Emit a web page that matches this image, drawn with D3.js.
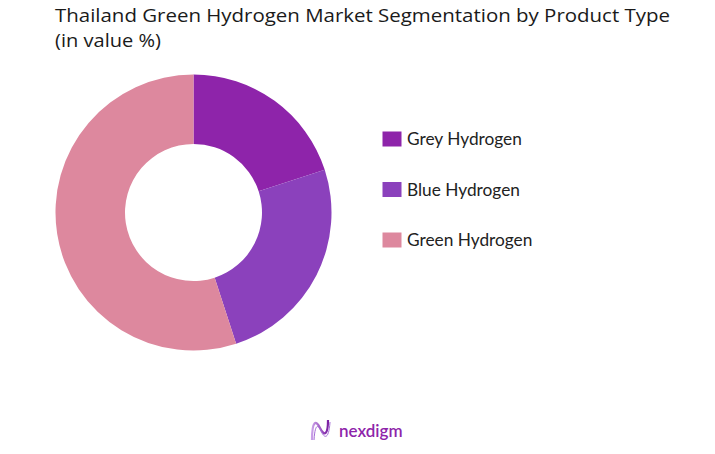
<!DOCTYPE html>
<html><head><meta charset="utf-8">
<script src="https://cdn.jsdelivr.net/npm/d3@7"></script>
<style>body{margin:0;background:#fff}svg{display:block}</style>
</head><body>
<svg id="c" width="715" height="454"></svg>
<script>
const categories = ["Grey Hydrogen", "Blue Hydrogen", "Green Hydrogen"];
const values = [20, 25, 55];
const colors = ["#8E24AA", "#8B41BC", "#DD889E"];
const titleLines = ["Thailand Green Hydrogen Market Segmentation by Product Type", "(in value %)"];

const svg = d3.select("#c");
const font = "Lato, 'Open Sans', sans-serif";
const tfont = "'Open Sans', sans-serif";
const titleWidths = [615, 106];

svg.selectAll("text.title").data(titleLines).join("text")
  .attr("class","title")
  .attr("x", 55).attr("y", (d,i)=>22+i*25)
  .attr("font-family", tfont).attr("font-size", 18.5).attr("fill", "#1a1a1a")
  .attr("textLength", (d,i)=>titleWidths[i]).attr("lengthAdjust","spacingAndGlyphs")
  .text(d=>d);

const data = categories.map((c,i)=>({name:c, value:values[i], color:colors[i]}));
const pie = d3.pie().value(d=>d.value).sort(null);
const arc = d3.arc().innerRadius(68.5).outerRadius(138);
const g = svg.append("g").attr("transform","translate(193.5,212.5)");
g.selectAll("path").data(pie(data)).join("path")
  .attr("d", arc).attr("fill", d=>d.data.color);

const y = d3.scalePoint().domain(categories).range([139, 240]);
const lg = svg.append("g");
lg.selectAll("rect").data(data).join("rect")
  .attr("x", 382.5).attr("y", d=>y(d.name)-7.5).attr("width", 19).attr("height", 15)
  .attr("fill", d=>d.color);
lg.selectAll("text").data(data).join("text")
  .attr("x", 407).attr("y", d=>y(d.name)+6)
  .attr("font-family", font).attr("font-size", 17.3).attr("fill", "#222")
  .text(d=>d.name);

// logo
const logo = svg.append("g");
const grad = svg.append("defs").append("linearGradient").attr("id","lgr")
  .attr("x1","0").attr("x2","1");
grad.append("stop").attr("offset","0").attr("stop-color","#C9A0E8");
grad.append("stop").attr("offset","1").attr("stop-color","#7B1FA2");
logo.append("path")
  .attr("d","M312,440 C312,420 316,420 320,428 C324,436 328,436 328,420")
  .attr("fill","none").attr("stroke","url(#lgr)").attr("stroke-width",2.2);
logo.append("path")
  .attr("d","M314,440 C315,424 318,424 321,431 C325,440 329,438 330,422")
  .attr("fill","none").attr("stroke","#A46BD6").attr("stroke-width",1);
logo.append("text").attr("x", 339).attr("y", 437)
  .attr("font-family", font).attr("font-size", 17).attr("font-weight", 600)
  .attr("fill", "#8E24AA").text("nexdigm");
</script>
</body></html>
